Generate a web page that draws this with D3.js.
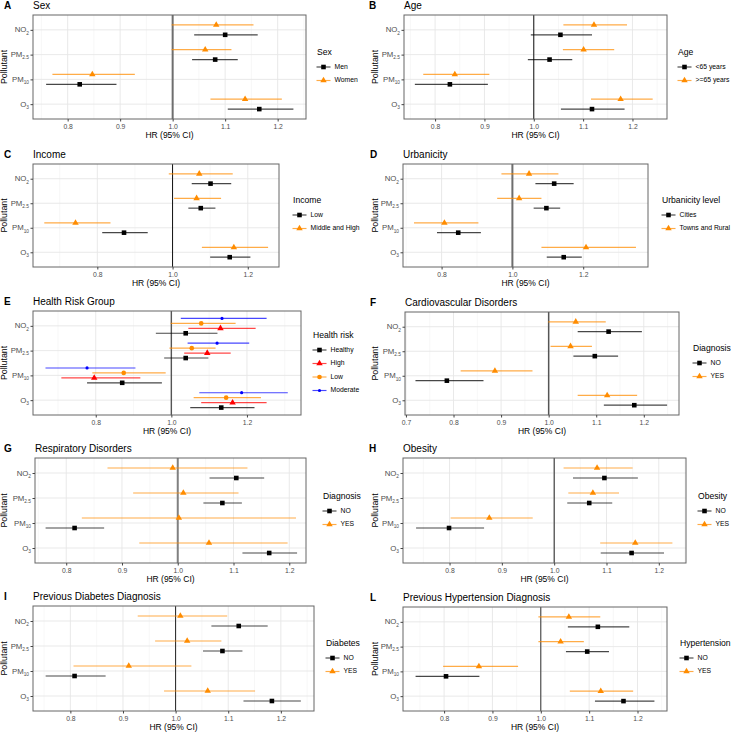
<!DOCTYPE html>
<html><head><meta charset="utf-8">
<script src="https://cdn.jsdelivr.net/npm/d3@7"></script>
<style>body{margin:0;background:#fff}svg{display:block;font-family:"Liberation Sans",Arial,sans-serif}</style>
</head><body><svg id="c" width="731" height="734"></svg>
<script>
// ---------- DATA ----------
const pollutants = ["NO2","PM2.5","PM10","O3"];
const ticksTenth = [0.7,0.8,0.9,1.0,1.1,1.2];
const ticksFifth = [0.8,1.0,1.2];

// A Sex
const sexGroups = ["Men","Women"];
const sexHR = [[1.100,1.081,0.823,1.165],[1.083,1.062,0.847,1.138]];
const sexLo = [[1.041,1.037,0.759,1.105],[0.998,0.998,0.771,1.072]];
const sexHi = [[1.162,1.124,0.893,1.230],[1.154,1.112,0.928,1.208]];
// B Age
const ageGroups = ["<65 years",">=65 years"];
const ageHR = [[1.054,1.032,0.830,1.118],[1.122,1.101,0.840,1.176]];
const ageLo = [[0.994,0.988,0.759,1.055],[1.060,1.059,0.776,1.116]];
const ageHi = [[1.118,1.078,0.907,1.184],[1.189,1.163,0.910,1.241]];
// C Income
const incGroups = ["Low","Middle and High"];
const incHR = [[1.101,1.075,0.871,1.152],[1.071,1.064,0.742,1.163]];
const incLo = [[1.051,1.042,0.813,1.100],[0.990,1.004,0.659,1.078]];
const incHi = [[1.156,1.114,0.934,1.207],[1.160,1.129,0.835,1.254]];
// D Urbanicity
const urbGroups = ["Cities","Towns and Rural"];
const urbHR = [[1.118,1.096,0.847,1.145],[1.047,1.019,0.808,1.208]];
const urbLo = [[1.065,1.060,0.787,1.097],[0.969,0.957,0.722,1.082]];
const urbHi = [[1.173,1.135,0.911,1.196],[1.130,1.082,0.904,1.349]];
// E Health risk
const riskGroups = ["Healthy","High","Low","Moderate"];
const riskHR = [[1.038,1.038,0.870,1.132],[1.130,1.095,0.796,1.162],[1.079,1.054,0.874,1.145],[1.134,1.121,0.777,1.186]];
const riskLo = [[0.959,0.981,0.777,1.050],[1.045,1.034,0.709,1.079],[0.998,0.995,0.791,1.059],[1.025,1.043,0.667,1.074]];
const riskHi = [[1.122,1.098,0.975,1.220],[1.223,1.157,0.918,1.252],[1.170,1.117,0.985,1.237],[1.252,1.206,0.905,1.308]];
// F Cardiovascular
const cvdGroups = ["NO","YES"];
const cvdHR = [[1.126,1.097,0.786,1.180],[1.057,1.046,0.887,1.123]];
const cvdLo = [[1.061,1.052,0.720,1.116],[0.999,1.004,0.815,1.061]];
const cvdHi = [[1.196,1.146,0.863,1.249],[1.120,1.091,0.966,1.186]];
// G Respiratory
const respGroups = ["NO","YES"];
const respHR = [[1.105,1.080,0.815,1.164],[0.991,1.010,1.002,1.056]];
const respLo = [[1.057,1.046,0.763,1.116],[0.874,0.920,0.828,0.931]];
const respHi = [[1.155,1.115,0.868,1.214],[1.125,1.109,1.212,1.197]];
// H Obesity
const obGroups = ["NO","YES"];
const obHR = [[1.096,1.067,0.799,1.148],[1.082,1.074,0.876,1.155]];
const obLo = [[1.036,1.025,0.736,1.089],[1.018,1.027,0.802,1.088]];
const obHi = [[1.160,1.111,0.866,1.210],[1.150,1.124,0.959,1.226]];
// I Diabetes
const diaGroups = ["NO","YES"];
const diaHR = [[1.120,1.089,0.808,1.183],[1.009,1.022,0.911,1.061]];
const diaLo = [[1.068,1.052,0.753,1.129],[0.928,0.961,0.806,0.978]];
const diaHi = [[1.175,1.127,0.867,1.238],[1.098,1.087,1.030,1.151]];
// L Hypertension
const hypGroups = ["NO","YES"];
const hypHR = [[1.118,1.096,0.804,1.171],[1.058,1.041,0.872,1.124]];
const hypLo = [[1.056,1.052,0.741,1.112],[0.995,0.995,0.798,1.060]];
const hypHi = [[1.183,1.141,0.873,1.235],[1.123,1.089,0.953,1.191]];

// ---------- LAYOUT ----------
const panels = [
 {L:"A",title:"Sex",leg:"Sex",g:sexGroups,hr:sexHR,lo:sexLo,hi:sexHi,ticks:ticksTenth,box:[33,15,306,119],dom:[0.734,1.254],lp:[317,53],lx:4,ref:["#6e6e6e",2]},
 {L:"B",title:"Age",leg:"Age",g:ageGroups,hr:ageHR,lo:ageLo,hi:ageHi,ticks:ticksTenth,box:[404,15,667,119],dom:[0.737,1.270],lp:[678,53],lx:369,ref:["#111",1]},
 {L:"C",title:"Income",leg:"Income",g:incGroups,hr:incHR,lo:incLo,hi:incHi,ticks:ticksFifth,box:[33,164,279,267],dom:[0.629,1.283],lp:[293,201],lx:4,ref:["#111",1]},
 {L:"D",title:"Urbanicity",leg:"Urbanicity level",g:urbGroups,hr:urbHR,lo:urbLo,hi:urbHi,ticks:ticksFifth,box:[403,164,648,267],dom:[0.691,1.383],lp:[662,201],lx:370,ref:["#6e6e6e",2]},
 {L:"E",title:"Health Risk Group",leg:"Health risk",g:riskGroups,hr:riskHR,lo:riskLo,hi:riskHi,ticks:ticksFifth,box:[33,311,301,415],dom:[0.634,1.343],lp:[313,336],lx:4,ref:["#555",1.4]},
 {L:"F",title:"Cardiovascular Disorders",leg:"Diagnosis",g:cvdGroups,hr:cvdHR,lo:cvdLo,hi:cvdHi,ticks:ticksTenth,box:[405,312,679,415],dom:[0.698,1.274],lp:[693,349],lx:370,ref:["#555",1.5]},
 {L:"G",title:"Respiratory Disorders",leg:"Diagnosis",g:respGroups,hr:respHR,lo:respLo,hi:respHi,ticks:ticksTenth,box:[35,458,306,563],dom:[0.744,1.230],lp:[323,497],lx:4,ref:["#808080",2]},
 {L:"H",title:"Obesity",leg:"Obesity",g:obGroups,hr:obHR,lo:obLo,hi:obHi,ticks:ticksTenth,box:[403,458,686,563],dom:[0.711,1.252],lp:[698,497],lx:369,ref:["#222",1]},
 {L:"I",title:"Previous Diabetes Diagnosis",leg:"Diabetes",g:diaGroups,hr:diaHR,lo:diaLo,hi:diaHi,ticks:ticksTenth,box:[33,606,314,711],dom:[0.729,1.263],lp:[326,644],lx:4,ref:["#222",1]},
 {L:"L",title:"Previous Hypertension Diagnosis",leg:"Hypertension",g:hypGroups,hr:hypHR,lo:hypLo,hi:hypHi,ticks:ticksTenth,box:[403,607,667,711],dom:[0.715,1.261],lp:[680,644],lx:370,ref:["#333",1]}
];
const styles2 = [{c:"#000000",s:"square"},{c:"#FF8C00",s:"triangle"}];
const styles4 = [{c:"#000000",s:"square"},{c:"#FF0000",s:"triangle"},{c:"#FF8C00",s:"circle"},{c:"#0000FF",s:"dot"}];
const subs = {"NO2":["NO","2"],"PM2.5":["PM","2.5"],"PM10":["PM","10"],"O3":["O","3"]};

const svg = d3.select("#c");
svg.append("rect").attr("width",731).attr("height",734).attr("fill","#fff");

function symbolPath(s){
  if(s==="square") return d3.symbol(d3.symbolSquare,21)();
  if(s==="triangle") return d3.symbol(d3.symbolTriangle,18)();
  if(s==="circle") return d3.symbol(d3.symbolCircle,17)();
  return d3.symbol(d3.symbolCircle,8)();
}

panels.forEach((p,pi)=>{
  const [x0,y0,x1,y1] = p.box;
  const g = svg.append("g");
  const x = d3.scaleLinear().domain(p.dom).range([x0,x1]);
  const y = d3.scalePoint().domain(pollutants).range([y0,y1]).padding(0.6);
  const step = y.step();
  const n = p.g.length;
  const st = n===4 ? styles4 : styles2;
  const w = 0.8;
  const off = i => step*w*(0.5-(i+0.5)/n);

  const t = p.ticks.filter(v=>v>=p.dom[0]-1e-9&&v<=p.dom[1]+1e-9);
  const d = p.ticks[1]-p.ticks[0];
  const minor = [];
  for(let v=p.ticks[0]-d/2; v<=p.dom[1]+d; v+=d){ if(v>p.dom[0]&&v<p.dom[1]) minor.push(v); }
  g.selectAll(".mn").data(minor).join("line").attr("x1",v=>x(v)).attr("x2",v=>x(v)).attr("y1",y0).attr("y2",y1)
    .attr("stroke","#f2f2f2").attr("stroke-width",0.6);
  g.selectAll(".mj").data(t).join("line").attr("x1",v=>x(v)).attr("x2",v=>x(v)).attr("y1",y0).attr("y2",y1)
    .attr("stroke","#e6e6e6").attr("stroke-width",0.9);
  g.selectAll(".hy").data(pollutants).join("line").attr("x1",x0).attr("x2",x1).attr("y1",v=>y(v)).attr("y2",v=>y(v))
    .attr("stroke","#e6e6e6").attr("stroke-width",0.9);

  g.append("line").attr("x1",x(1)).attr("x2",x(1)).attr("y1",y0).attr("y2",y1).attr("stroke",p.ref[0]).attr("stroke-width",p.ref[1]);

  p.g.forEach((grp,i)=>{
    pollutants.forEach((pol,j)=>{
      const yy = y(pol)+off(i);
      g.append("line").attr("x1",x(p.lo[i][j])).attr("x2",x(p.hi[i][j])).attr("y1",yy).attr("y2",yy)
        .attr("stroke",st[i].c).attr("stroke-width",1.15).attr("stroke-opacity",0.72);
      g.append("path").attr("d",symbolPath(st[i].s)).attr("transform",`translate(${x(p.hr[i][j])},${yy})`).attr("fill",st[i].c);
    });
  });

  g.append("rect").attr("x",x0).attr("y",y0).attr("width",x1-x0).attr("height",y1-y0).attr("fill","none").attr("stroke","#666").attr("stroke-width",1);

  const ax = g.append("g").attr("transform",`translate(0,${y1})`)
    .call(d3.axisBottom(x).tickValues(t).tickSize(2.5).tickPadding(3).tickFormat(d3.format(".1f")));
  ax.select(".domain").remove();
  ax.attr("font-family",null).attr("font-size",null);
  ax.selectAll("line").attr("stroke","#444");
  ax.selectAll("text").attr("font-size",6.8).attr("fill","#4d4d4d");
  g.append("text").attr("x",(x0+x1)/2).attr("y",y1+17).attr("text-anchor","middle").attr("dominant-baseline","middle")
    .attr("font-size",8.5).attr("fill","#000").text("HR (95% CI)");

  const ay = g.append("g").attr("transform",`translate(${x0},0)`).call(d3.axisLeft(y).tickSize(2.5).tickFormat(""));
  ay.select(".domain").remove();
  ay.selectAll("line").attr("stroke","#444");
  pollutants.forEach(pol=>{
    const tx = g.append("text").attr("x",x0-4).attr("y",y(pol)+2.6).attr("text-anchor","end").attr("font-size",7.8).attr("fill","#4d4d4d");
    tx.append("tspan").text(subs[pol][0]);
    tx.append("tspan").attr("font-size",4.8).attr("dy",2.2).text(subs[pol][1]);
  });
  const yl = pi%2===0 ? 5 : 376;
  g.append("text").attr("transform",`translate(${yl},${(y0+y1)/2}) rotate(-90)`).attr("text-anchor","middle")
    .attr("dominant-baseline","middle").attr("font-size",8.8).attr("fill","#000").text("Pollutant");

  g.append("text").attr("x",p.lx).attr("y",y0-6).attr("font-size",10).attr("font-weight","bold").text(p.L);
  g.append("text").attr("x",x0).attr("y",y0-6).attr("font-size",10).text(p.title);

  const [lx,ly] = p.lp;
  g.append("text").attr("x",lx).attr("y",ly).attr("dominant-baseline","middle").attr("font-size",8.6).text(p.leg);
  p.g.forEach((grp,i)=>{
    const iy = ly+14+i*13.5, kc = lx+6.5;
    g.append("line").attr("x1",kc-7).attr("x2",kc+7).attr("y1",iy).attr("y2",iy).attr("stroke",st[i].c).attr("stroke-width",1.15).attr("stroke-opacity",0.72);
    g.append("path").attr("d",symbolPath(st[i].s)).attr("transform",`translate(${kc},${iy})`).attr("fill",st[i].c);
    g.append("text").attr("x",lx+17.5).attr("y",iy).attr("dominant-baseline","middle").attr("font-size",6.8).attr("fill","#000").text(grp);
  });
});
</script></body></html>
